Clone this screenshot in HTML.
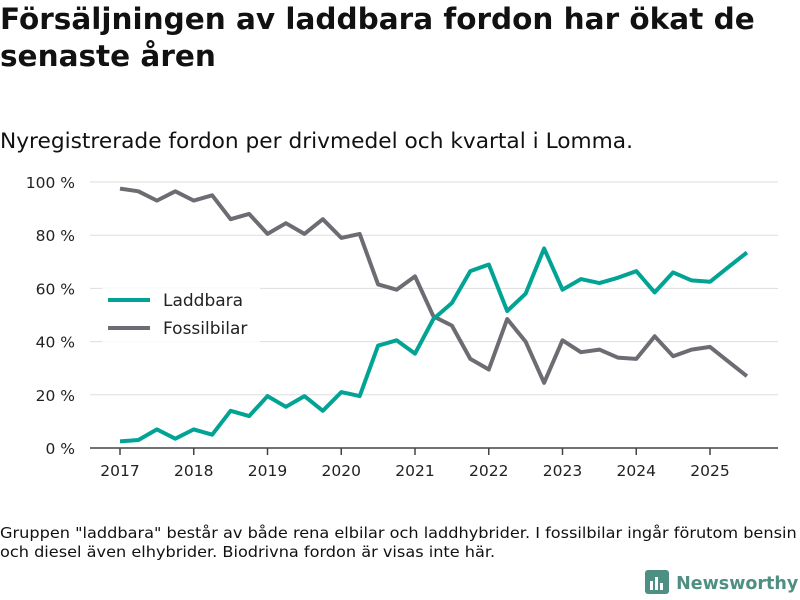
<!DOCTYPE html>
<html><head><meta charset="utf-8"><style>
body{margin:0;background:#fff;font-family:"DejaVu Sans","Liberation Sans",sans-serif;color:#111}
#wrap{position:relative;width:800px;height:600px;overflow:hidden}
h1{position:absolute;left:0;top:1px;margin:0;font-size:29.5px;line-height:37px;font-weight:bold;width:800px;white-space:nowrap}
.sub{position:absolute;left:0;top:129px;font-size:21.7px;white-space:nowrap}
.note{position:absolute;left:0;top:524px;font-size:15px;line-height:19px;white-space:nowrap;transform:scaleX(1.075);transform-origin:0 0}
.logo{position:absolute;left:644px;top:569px;font-size:17.5px;font-weight:bold;color:#4e8f84;white-space:nowrap}
</style></head><body>
<div id="wrap">
<h1>Försäljningen av laddbara fordon har ökat de<br>senaste åren</h1>
<div class="sub">Nyregistrerade fordon per drivmedel och kvartal i Lomma.</div>
<svg id="chart" width="800" height="600" style="position:absolute;left:0;top:0"></svg>
<div class="note">Gruppen "laddbara" består av både rena elbilar och laddhybrider. I fossilbilar ingår förutom bensin<br>och diesel även elhybrider. Biodrivna fordon är visas inte här.</div>
<div class="logo"><svg width="26" height="26" style="vertical-align:-6px"><rect x="1" y="1" width="24" height="24" rx="3" fill="#4e8f84"/><rect x="6" y="12" width="3" height="9" fill="#fff"/><rect x="11" y="8" width="3" height="13" fill="#fff"/><rect x="16" y="14" width="3" height="7" fill="#fff"/></svg> Newsworthy</div>
</div>
<script>
const years=[2017,2018,2019,2020,2021,2022,2023,2024,2025];
const yTicks=[0,20,40,60,80,100];
const laddbara=[2.5,3,7,3.5,7,5,14,12,19.5,15.5,19.5,14,21,19.5,38.5,40.5,35.5,48.5,54.5,66.5,69,51.5,58,75,59.5,63.5,62,64,66.5,58.5,66,63,62.5,68,73.5];
const fossil=[97.5,96.5,93,96.5,93,95,86,88,80.5,84.5,80.5,86,79,80.5,61.5,59.5,64.5,49.5,46,33.5,29.5,48.5,40,24.5,40.5,36,37,34,33.5,42,34.5,37,38,32.5,27];
const svg=document.getElementById('chart');const NS='http://www.w3.org/2000/svg';
const X=t=>120+(t-2017)*73.75, Y=v=>448-v*2.66;
function mk(tag,a){const e=document.createElementNS(NS,tag);for(const k in a)e.setAttribute(k,a[k]);svg.appendChild(e);return e;}
yTicks.forEach(v=>{
 if(v>0){const g=mk('line',{x1:90,x2:778,y1:Y(v),y2:Y(v),stroke:'#ddd','stroke-width':1});
 
 }
 const t=mk('text',{x:75,y:Y(v)+6,'text-anchor':'end','font-size':15.5,fill:'#222','font-family':'DejaVu Sans,sans-serif'});
 t.textContent=v+' %';
 
 
});
const ax=mk('line',{x1:90,x2:778,y1:448,y2:448,stroke:'#444','stroke-width':1.5});


years.forEach(yr=>{
 const tk=mk('line',{x1:X(yr),x2:X(yr),y1:448,y2:455,stroke:'#444','stroke-width':1.5});
 
 
 const t=mk('text',{x:X(yr),y:476,'text-anchor':'middle','font-size':15.5,fill:'#222','font-family':'DejaVu Sans,sans-serif'});
 t.textContent=yr;
 
 
});
function line(arr,col,name){
 const d=arr.map((v,i)=>(i?'L':'M')+X(2017+i/4).toFixed(1)+','+Y(v).toFixed(1)).join('');
 const p=mk('path',{d:d,fill:'none',stroke:col,'stroke-width':4,'stroke-linejoin':'round'});
 
 
}
line(fossil,'#6e6c72','fossilbilar-line');
line(laddbara,'#00a394','laddbara-line');
const lb=mk('rect',{x:102,y:288,width:158,height:54,fill:'#fff',opacity:0.9});


[['Laddbara','#00a394',300],['Fossilbilar','#6e6c72',328]].forEach(([n,c,y])=>{
 const l=mk('line',{x1:108,x2:150,y1:y,y2:y,stroke:c,'stroke-width':4});
 
 
 const t=mk('text',{x:163,y:y+6,'font-size':17,fill:'#222','font-family':'DejaVu Sans,sans-serif'});
 t.textContent=n;
 
 
});
</script>
</body></html>
